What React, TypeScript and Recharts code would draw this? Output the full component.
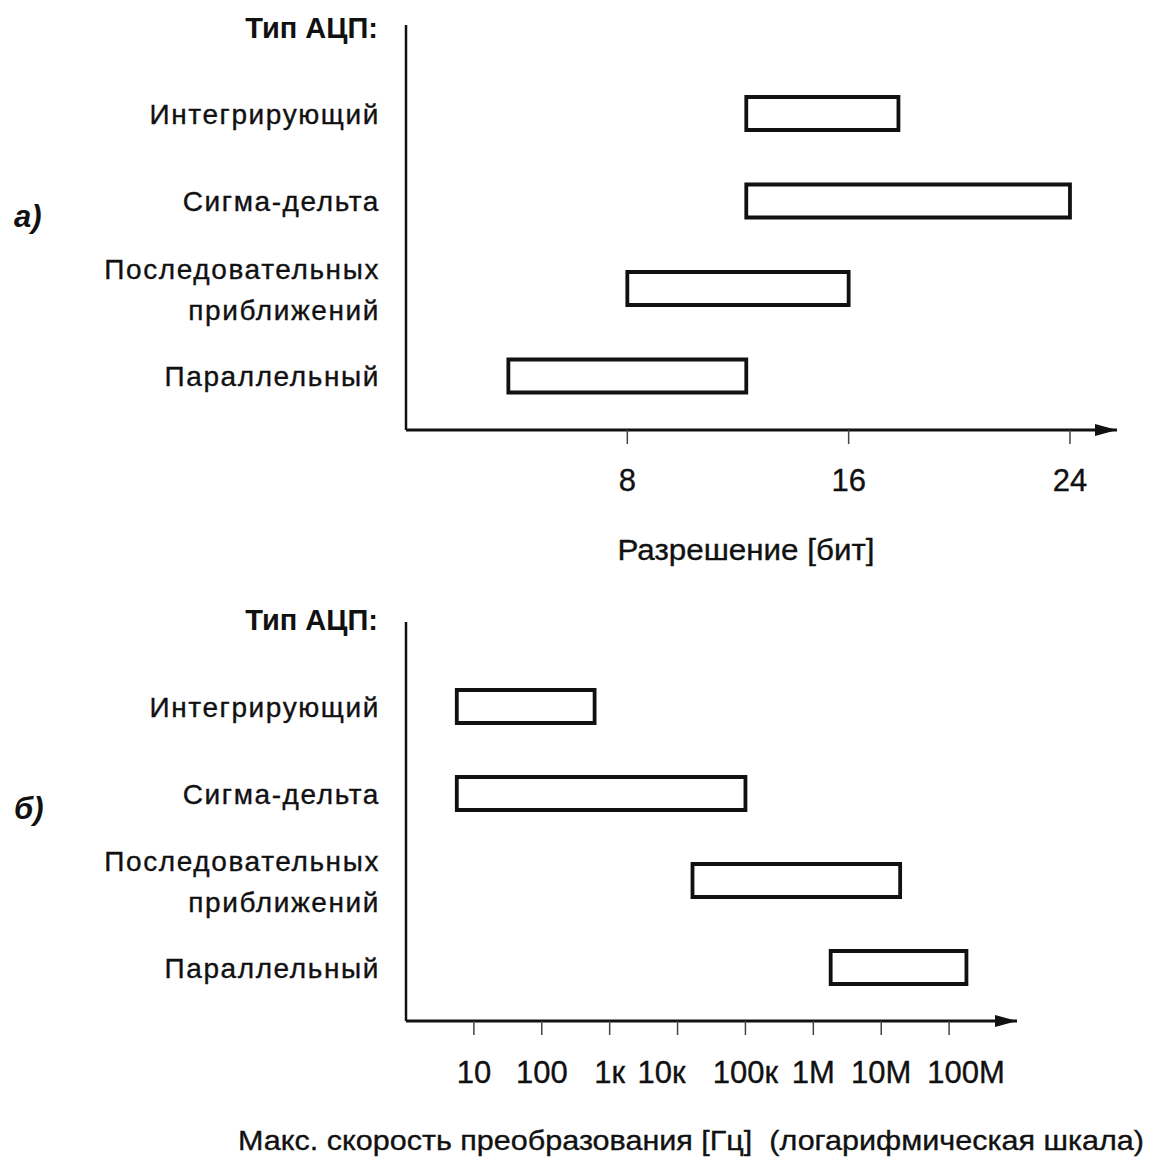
import React from 'react';
import { BarChart, Bar, XAxis, YAxis } from 'recharts';

// ---- data ----
const categories = ['Интегрирующий', 'Сигма-дельта', 'Последовательных приближений', 'Параллельный'];
const resolutionStart = [12.3, 12.3, 8, 3.7];
const resolutionEnd = [17.8, 24, 16, 12.3];
const speedStart = [5.6, 5.6, 16600, 1.8e6];
const speedEnd = [600, 1e5, 1.9e7, 1.8e8];
const resolutionTicks = [8, 16, 24];
const speedTicks = [10, 100, 1e3, 1e4, 1e5, 1e6, 1e7, 1e8];
const speedTickLabels = ['10', '100', '1к', '10к', '100к', '1М', '10М', '100М'];

const headerLabel = 'Тип АЦП:';
const panelLabels = ['а)', 'б)'];
const resolutionTitle = 'Разрешение [бит]';
const speedTitle = 'Макс. скорость преобразования [Гц]  (логарифмическая шкала)';

const resolutionData = categories.map((name, i) => ({ name, range: [resolutionStart[i], resolutionEnd[i]] }));
const speedData = categories.map((name, i) => ({ name, range: [speedStart[i], speedEnd[i]] }));

const FONT = "'Liberation Sans', Arial, Helvetica, sans-serif";
const INK = '#111';
const TEXT_STROKE = 0.35;

const CategoryTick = (props: any) => {
  const { x, y, payload } = props;
  const words: string[] = String(payload.value).split(' ');
  const xr = x - 26;
  if (words.length === 1) {
    return (
      <text x={xr} y={y} dy="0.36em" textAnchor="end" fontFamily={FONT} fontSize={28} letterSpacing={1.6} fill={INK} stroke={INK} strokeWidth={TEXT_STROKE}>
        {words[0]}
      </text>
    );
  }
  return (
    <text x={xr} y={y} textAnchor="end" fontFamily={FONT} fontSize={28} letterSpacing={1.6} fill={INK} stroke={INK} strokeWidth={TEXT_STROKE}>
      <tspan x={xr} dy={-10}>{words[0]}</tspan>
      <tspan x={xr} dy={41}>{words[1]}</tspan>
    </text>
  );
};

const tickShift: Record<string, number> = { '10к': -16, '100М': 17 };

const makeNumberTick = (labels?: string[], values?: number[]) => (props: any) => {
  const { x, y, payload } = props;
  let label = String(payload.value);
  if (labels && values) {
    const idx = values.findIndex((v) => Math.abs(v - payload.value) / v < 1e-6);
    if (idx >= 0) label = labels[idx];
  }
  const dx = tickShift[label] || 0;
  return (
    <text x={x + dx} y={y} dy="0.71em" textAnchor="middle" fontFamily={FONT} fontSize={31} fill={INK} stroke={INK} strokeWidth={TEXT_STROKE}>
      {label}
    </text>
  );
};

const ResolutionTick = makeNumberTick();
const SpeedTick = makeNumberTick(speedTickLabels, speedTicks);

const axisLineStyle = { stroke: INK, strokeWidth: 3, markerEnd: 'url(#axisArrow)' };
const yAxisLineStyle = { stroke: INK, strokeWidth: 2.5 };
const tickLineStyle = { stroke: '#444', strokeWidth: 1.5 };

export default function App() {
  return (
    <div style={{ position: 'relative', width: 1150, height: 1159, background: '#fff', fontFamily: FONT }}>
      <style>{`body{margin:0;background:#fff}`}</style>
      <svg width={0} height={0} style={{ position: 'absolute' }}>
        <defs>
          <marker id="axisArrow" markerUnits="userSpaceOnUse" markerWidth={24} markerHeight={14} refX={22} refY={7} orient="auto">
            <path d="M0,1 L22,7 L0,13 Z" fill={INK} />
          </marker>
        </defs>
      </svg>

      <div style={{ position: 'absolute', left: 0, top: 0 }}>
        <BarChart
          width={1150}
          height={590}
          layout="vertical"
          data={resolutionData}
          margin={{ top: 25, right: 33, bottom: 100, left: 10 }}
        >
          <XAxis
            type="number"
            domain={[0, 25.7]}
            ticks={resolutionTicks}
            allowDataOverflow
            height={60}
            axisLine={axisLineStyle}
            tickLine={tickLineStyle}
            tickSize={14}
            tickMargin={25}
            tick={<ResolutionTick />}
            interval={0}
          />
          <YAxis
            type="category"
            dataKey="name"
            width={396}
            axisLine={yAxisLineStyle}
            tickLine={false}
            tickSize={0}
            tickMargin={0}
            padding={{ top: 45, bottom: 10 }}
            tick={<CategoryTick />}
            interval={0}
          />
          <Bar dataKey="range" fill="#fff" stroke={INK} strokeWidth={3.8} barSize={33} isAnimationActive={false} />
        </BarChart>
      </div>

      <div style={{ position: 'absolute', left: 0, top: 590 }}>
        <BarChart
          width={1150}
          height={569}
          layout="vertical"
          data={speedData}
          margin={{ top: 32, right: 133, bottom: 78, left: 10 }}
        >
          <XAxis
            type="number"
            scale="log"
            domain={[1, 1e9]}
            ticks={speedTicks}
            allowDataOverflow
            height={60}
            axisLine={axisLineStyle}
            tickLine={tickLineStyle}
            tickSize={14}
            tickMargin={26}
            tick={<SpeedTick />}
            interval={0}
          />
          <YAxis
            type="category"
            dataKey="name"
            width={396}
            axisLine={yAxisLineStyle}
            tickLine={false}
            tickSize={0}
            tickMargin={0}
            padding={{ top: 41, bottom: 10 }}
            tick={<CategoryTick />}
            interval={0}
          />
          <Bar dataKey="range" fill="#fff" stroke={INK} strokeWidth={3.8} barSize={33} isAnimationActive={false} />
        </BarChart>
      </div>

      <svg width={1150} height={1159} style={{ position: 'absolute', left: 0, top: 0, pointerEvents: 'none' }}>
        <text x={378} y={28} dy="0.36em" textAnchor="end" fontFamily={FONT} fontSize={29} fontWeight="bold" fill={INK}>{headerLabel}</text>
        <text x={378} y={620} dy="0.36em" textAnchor="end" fontFamily={FONT} fontSize={29} fontWeight="bold" fill={INK}>{headerLabel}</text>
        <text x={14} y={216} dy="0.36em" fontFamily={FONT} fontSize={31} fontWeight="bold" fontStyle="italic" fill={INK}>{panelLabels[0]}</text>
        <text x={14} y={808} dy="0.36em" fontFamily={FONT} fontSize={31} fontWeight="bold" fontStyle="italic" fill={INK}>{panelLabels[1]}</text>
        <text x={746} y={550} dy="0.36em" textAnchor="middle" fontFamily={FONT} fontSize={29} textLength={257} lengthAdjust="spacingAndGlyphs" fill={INK} stroke={INK} strokeWidth={TEXT_STROKE}>{resolutionTitle}</text>
        <text x={691} y={1140} dy="0.36em" textAnchor="middle" fontFamily={FONT} fontSize={28} textLength={906} lengthAdjust="spacingAndGlyphs" fill={INK} stroke={INK} strokeWidth={TEXT_STROKE} style={{ whiteSpace: 'pre' }}>{speedTitle}</text>
      </svg>
    </div>
  );
}
